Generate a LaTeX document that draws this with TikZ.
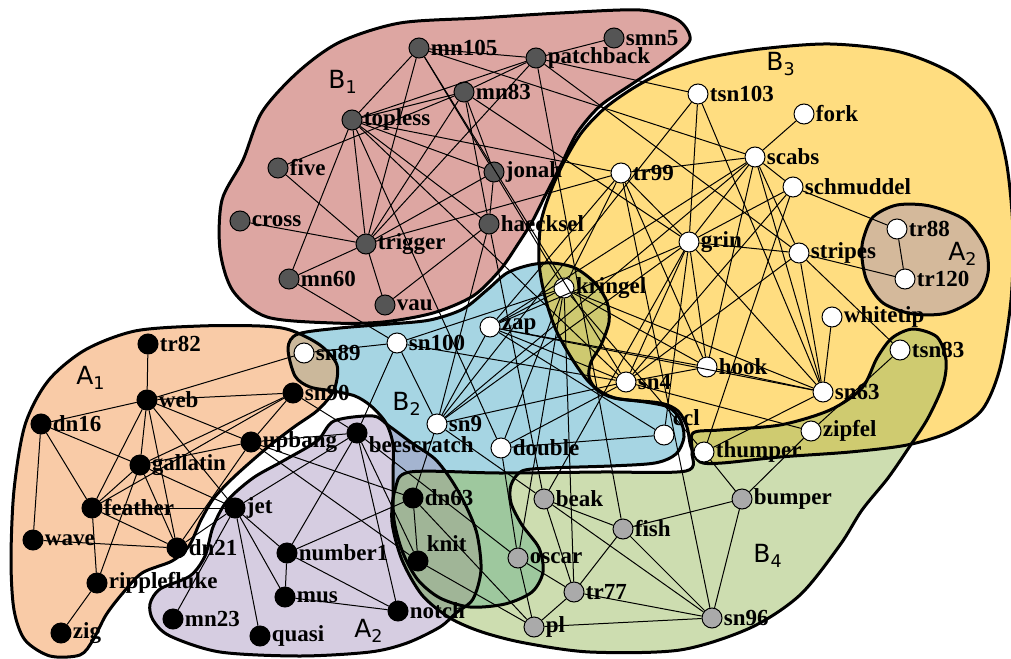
\documentclass[tikz,border=0pt]{standalone}
\usepackage{fontspec}
\setmainfont{Liberation Serif}
\newfontfamily\regionfont{DejaVu Sans}
\usepackage{tikz}
\usepackage{xcolor}

\definecolor{cAone}{HTML}{F9CBA7}
\definecolor{cAtwo}{HTML}{D6CDE1}
\definecolor{cBone}{HTML}{DDA6A2}
\definecolor{cBtwo}{HTML}{A6D5E3}
\definecolor{cBthree}{HTML}{FFDD80}
\definecolor{cBfour}{HTML}{CDDDB0}
\definecolor{cAoneBtwo}{HTML}{CBB89B}
\definecolor{cAtwoBthree}{HTML}{D4B99B}
\definecolor{cAtwoBtwo}{HTML}{A4B4D0}
\definecolor{cAtwoBfour}{HTML}{A0B597}
\definecolor{cBtwoBthree}{HTML}{CEC970}
\definecolor{cBthreeBfour}{HTML}{CFCB70}
\definecolor{cBtwoBfour}{HTML}{9EC89E}
\definecolor{darknode}{HTML}{555555}
\definecolor{greynode}{HTML}{AAAAAA}

% region outlines (pixel units)
\newcommand\regAone{plot[smooth cycle] coordinates {(290,330) (320,345) (337,365) (334,390) (318,410) (294,427) (268,447) (235,476) (214,498) (201,520) (189,546) (172,561) (142,573) (122,594) (106,615) (93,640) (80,655) (50,656) (25,640) (14,610) (11,560) (14,490) (25,425) (48,381) (85,350) (135,331) (200,326) (260,326)}}
\newcommand\regAtwo{plot[smooth cycle] coordinates {(150,604) (160,589) (190,576) (205,556) (213,527) (227,501) (253,478) (283,461) (317,441) (334,421) (373,416) (389,426) (412,443) (435,459) (452,481) (466,506) (477,534) (481,570) (473,599) (456,613) (440,627) (407,643) (370,652) (300,656) (220,652) (170,636) (153,620)}}
\newcommand\regAtwoB{plot[smooth cycle] coordinates {(863,240) (873,217) (897,205) (930,206) (965,220) (985,247) (988,273) (977,297) (947,313) (913,314) (883,303) (867,281) (862,258)}}
\newcommand\regBone{plot[smooth cycle] coordinates {(243,160) (262,112) (298,72) (340,42) (400,23) (480,18) (560,13) (640,10) (678,20) (690,40) (668,60) (632,84) (600,106) (577,133) (561,165) (546,194) (533,220) (518,244) (500,270) (473,296) (433,313) (383,322) (333,323) (267,317) (233,291) (220,250) (222,200)}}
\newcommand\regBtwo{plot[smooth cycle] coordinates {(288,348) (298,334) (340,328) (390,324) (430,320) (463,309) (487,290) (507,273) (530,265) (552,263) (575,268) (595,283) (607,302) (609,322) (601,345) (591,362) (589,377) (597,390) (614,398) (645,402) (668,407) (680,419) (684,437) (676,454) (655,463) (610,466) (550,468) (522,471) (511,485) (511,503) (522,525) (539,548) (543,572) (532,592) (505,604) (470,607) (440,598) (418,580) (403,553) (394,520) (393,480) (393,445) (386,423) (371,406) (355,396) (333,391) (310,387) (295,376)}}
\newcommand\regBthree{plot[smooth cycle] coordinates {(707,58) (760,49) (830,44) (900,52) (955,75) (990,110) (1006,160) (1013,230) (1011,300) (1000,368) (982,410) (950,432) (907,445) (850,452) (780,457) (722,463) (700,462) (691,447) (687,427) (678,411) (660,403) (615,398) (592,385) (574,362) (556,330) (545,297) (539,262) (541,222) (552,188) (565,160) (582,132) (605,108) (635,87) (668,70)}}
\newcommand\regBfour{plot[smooth cycle] coordinates {(410,472) (500,473) (600,472) (686,471) (692,452) (693,433) (720,430) (780,425) (830,410) (862,388) (877,358) (892,338) (913,329) (937,337) (946,360) (943,385) (928,418) (910,446) (888,478) (862,510) (840,545) (800,595) (750,628) (680,650) (590,652) (525,643) (482,632) (450,618) (422,595) (402,560) (392,522) (395,490)}}

\begin{document}
\begin{tikzpicture}[
    x=0.5pt, y=-0.5pt,
    border/.style={draw=black, line width=1.5pt},
    edge/.style={line width=0.5pt, black},
    vtx/.style={circle, draw=black, line width=0.5pt, minimum size=10pt, inner sep=0pt},
    darkv/.style={vtx, fill=darknode},
    whitev/.style={vtx, fill=white},
    blackv/.style={vtx, fill=black},
    greyv/.style={vtx, fill=greynode},
    every label/.style={font=\bfseries\fontsize{11.5}{12}\selectfont, inner sep=0.5pt},
    reglbl/.style={font=\regionfont\fontsize{12.5}{14}\selectfont},
]
\useasboundingbox (0,0) rectangle (1011,658);

% region fills
\fill[cAone] \regAone;
\fill[cAtwo] \regAtwo;
\fill[cBone] \regBone;
\fill[cBtwo] \regBtwo;
\fill[cBthree] \regBthree;
\fill[cBfour] \regBfour;
\fill[cAtwoBthree] \regAtwoB;

% overlaps
\begin{scope}\clip \regAone; \fill[cAoneBtwo] \regBtwo; \end{scope}
\begin{scope}\clip \regAtwo; \fill[cAtwoBtwo] \regBtwo; \end{scope}
\begin{scope}\clip \regBtwo; \fill[cBtwoBthree] \regBthree; \end{scope}
\begin{scope}\clip \regBthree; \fill[cBthreeBfour] \regBfour; \end{scope}
\begin{scope}\clip \regBtwo; \fill[cBtwoBfour] \regBfour; \end{scope}
\begin{scope}\clip \regAtwo; \fill[cAtwoBfour] \regBfour; \end{scope}

% region borders
\draw[border] \regAone;
\draw[border] \regAtwo;
\draw[border] \regAtwoB;
\draw[border] \regBone;
\draw[border] \regBtwo;
\draw[border] \regBthree;
\draw[border] \regBfour;

% vertices
\foreach \n/\x/\y in {mn105/419/48, smn5/614/38, patchback/536/58, mn83/464/92,
    topless/352/120, five/278/168, jonah/494/172, cross/240/221, trigger/366/244,
    haecksel/489/224, mn60/289/279, vau/385/305}
  \node[darkv, label=right:\n] (\n) at (\x,\y) {};
\foreach \n/\x/\y in {tsn103/698/94, fork/804/114, scabs/755/157, schmuddel/793/187,
    tr99/621/173, grin/689/242, stripes/799/253, tr88/897/229, tr120/905/279,
    kringel/564/288, whitetip/832/317, tsn83/900/350, hook/707/367, sn4/626/382,
    sn63/823/392, zipfel/811/431, thumper/704/452,
    zap/490/327, sn100/397/343, sn89/304/353, sn9/437/424, double/501/448}
  \node[whitev, label=right:\n] (\n) at (\x,\y) {};
\node[whitev, label=above right:ccl] (ccl) at (664,435) {};
\foreach \n/\x/\y in {tr82/148/344, web/147/400, sn90/293/393, dn16/41/424,
    upbang/251/442, gallatin/140/465, feather/92/508, jet/235/508, wave/33/540,
    dn21/177/548, ripplefluke/97/583, zig/61/633, dn63/413/498, number1/287/553,
    mus/285/597, notch/398/611, mn23/173/619, quasi/260/636}
  \node[blackv, label=right:\n] (\n) at (\x,\y) {};
\node[blackv, label={[yshift=-6pt]right:beescratch}] (beescratch) at (357,433) {};
\node[blackv, label=above right:knit] (knit) at (418,561) {};
\foreach \n/\x/\y in {beak/544/499, bumper/742/499, fish/623/529, oscar/518/558,
    tr77/574/592, sn96/712/618, pl/534/627}
  \node[greyv, label=right:\n] (\n) at (\x,\y) {};

% edges
\foreach \a/\b in {double/ccl, feather/dn16, feather/dn21, fish/beak, fish/bumper,
    gallatin/dn16, gallatin/dn21, gallatin/feather, grin/beak, grin/ccl,
    haecksel/beak, hook/grin, jet/beescratch, jet/dn21, jet/feather, jet/gallatin,
    jonah/haecksel, knit/beescratch, knit/dn63, kringel/double, kringel/hook,
    kringel/jonah, mn105/jonah, mn23/jet, mn83/five, mn83/grin, mn83/haecksel,
    mn83/jonah, mus/jet, notch/beescratch, notch/mus, number1/beescratch,
    number1/dn63, number1/jet, number1/mus, number1/notch, oscar/beescratch,
    oscar/double, oscar/kringel, patchback/fish, patchback/mn105, patchback/mn83,
    pl/dn63, pl/knit, pl/oscar, quasi/jet, ripplefluke/feather, ripplefluke/gallatin,
    scabs/fork, scabs/grin, scabs/hook, scabs/mn105, schmuddel/grin, schmuddel/scabs,
    smn5/patchback, sn100/beescratch, sn100/kringel, sn100/mn60, sn4/double,
    sn4/grin, sn4/hook, sn4/mn105, sn4/schmuddel, sn4/sn100, sn63/grin, sn63/hook,
    sn63/kringel, sn63/scabs, sn89/sn100, sn9/beak, sn9/dn63, sn9/grin,
    sn9/haecksel, sn9/scabs, sn9/sn100, sn9/sn4, sn90/beescratch, sn90/feather,
    sn90/gallatin, sn96/beak, sn96/bumper, sn96/fish, sn96/pl, stripes/grin,
    stripes/patchback, stripes/scabs, stripes/sn4, stripes/sn63, thumper/bumper,
    thumper/kringel, thumper/schmuddel, thumper/sn63, topless/double,
    topless/haecksel, topless/jonah, topless/mn105, topless/mn60, topless/mn83,
    topless/patchback, topless/sn4, tr120/stripes, tr77/beak, tr77/fish,
    tr77/kringel, tr77/oscar, tr77/pl, tr77/sn96, tr88/schmuddel, tr88/tr120,
    tr99/grin, tr99/hook, tr99/kringel, tr99/scabs, tr99/sn96, tr99/topless,
    trigger/cross, trigger/five, trigger/jonah, trigger/mn105, trigger/mn60,
    trigger/mn83, trigger/patchback, trigger/topless, trigger/tr99, tsn103/grin,
    tsn103/patchback, tsn103/sn63, tsn103/sn9, tsn83/stripes, upbang/beescratch,
    upbang/dn21, upbang/dn63, upbang/gallatin, upbang/knit, upbang/sn90,
    vau/haecksel, vau/trigger, wave/dn16, wave/dn21, web/dn16, web/dn21,
    web/feather, web/gallatin, web/jet, web/sn89, web/sn90, web/tr82, web/upbang,
    whitetip/sn63, zap/ccl, zap/grin, zap/hook, zap/kringel, zap/scabs, zap/sn4,
    zap/sn63, zap/sn9, zap/tr99, zig/ripplefluke, zipfel/bumper, zipfel/sn4,
    zipfel/tsn83}
  \draw[edge] (\a) -- (\b);

% region names
\node[reglbl] (lB1) at (343,82) {B\textsubscript{1}};
\node[reglbl] (lB3) at (781,64) {B\textsubscript{3}};
\node[reglbl] (lA2b) at (963,254) {A\textsubscript{2}};
\node[reglbl] (lB2) at (407,404) {B\textsubscript{2}};
\node[reglbl] (lA1) at (91,378) {A\textsubscript{1}};
\node[reglbl] (lA2) at (369,631) {A\textsubscript{2}};
\node[reglbl] (lB4) at (768,556) {B\textsubscript{4}};
\end{tikzpicture}
\end{document}
